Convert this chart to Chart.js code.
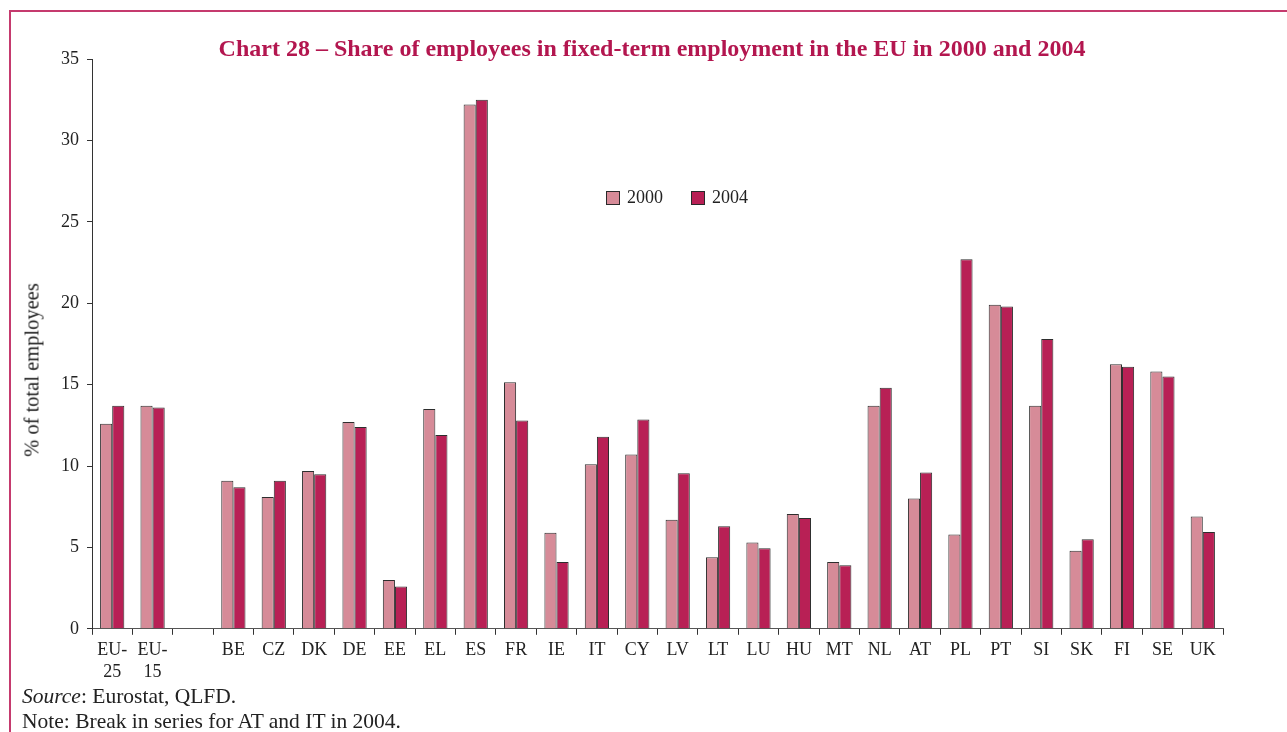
<!DOCTYPE html>
<html>
<head>
<meta charset="utf-8">
<script src="https://cdn.jsdelivr.net/npm/chart.js@4.4.1/dist/chart.umd.min.js"></script>
<style>
    html, body { margin: 0; padding: 0; background: #fff; }
    #wrap { position: relative; width: 1287px; height: 732px; overflow: hidden; }
    #frame {
        position: absolute; left: 9px; top: 10px; width: 1400px; height: 800px;
        border-top: 2px solid #c53a6e; border-left: 2px solid #c53a6e;
    }
    #chart { position: absolute; left: 0; top: 0; }
    .serif { font-family: "Liberation Serif", "Times New Roman", serif; }
    #title {
        position: absolute; left: 0; top: 34px; width: 1304px; text-align: center;
        font-size: 24px; line-height: 28px; font-weight: bold; color: #b3164f; white-space: nowrap;
    }
    #ytitle {
        position: absolute; left: 32px; top: 370px; font-size: 20.5px; color: #222;
        white-space: nowrap; transform: translate(-50%, -50%) rotate(-90deg);
    }
    #notes {
        position: absolute; left: 22px; top: 684px; font-size: 21.5px; line-height: 25px;
        color: #222; white-space: nowrap;
    }
</style>
</head>
<body>
<div id="wrap">
    <div id="frame"></div>
    <canvas id="chart" width="1287" height="732"></canvas>
    <div id="title" class="serif">Chart 28 – Share of employees in fixed-term employment in the EU in 2000 and 2004</div>
    <div id="ytitle" class="serif">% of total employees</div>
    <div id="notes" class="serif"><i>Source</i>: Eurostat, QLFD.<br>Note: Break in series for AT and IT in 2004.</div>
</div>
<script>
/* =========================================================
   Chart 28 - fixed-term employment, Chart.js bar chart
   ========================================================= */
const countries = [
    ['EU-', '25'], ['EU-', '15'], '',
    'BE', 'CZ', 'DK', 'DE', 'EE', 'EL', 'ES', 'FR', 'IE', 'IT', 'CY', 'LV',
    'LT', 'LU', 'HU', 'MT', 'NL', 'AT', 'PL', 'PT', 'SI', 'SK', 'FI', 'SE', 'UK'
];
const share2000 = [
    12.6, 13.7, null,
    9.1, 8.1, 9.7, 12.7, 3.0, 13.5, 32.2, 15.15, 5.9, 10.1, 10.7, 6.7,
    4.4, 5.3, 7.05, 4.1, 13.7, 8.0, 5.8, 19.9, 13.7, 4.8, 16.25, 15.8, 6.9
];
const share2004 = [
    13.7, 13.6, null,
    8.7, 9.1, 9.5, 12.4, 2.6, 11.9, 32.5, 12.8, 4.1, 11.8, 12.85, 9.55,
    6.3, 4.95, 6.8, 3.9, 14.8, 9.6, 22.7, 19.8, 17.8, 5.5, 16.1, 15.5, 5.95
];
const yTicks = [0, 5, 10, 15, 20, 25, 30, 35];

const serif = '"Liberation Serif", "Times New Roman", serif';
const inkColor = '#222';

// legend sits inside the plot, so draw it by hand
const innerLegend = {
    id: 'innerLegend',
    afterDraw(chart) {
        const ctx = chart.ctx;
        let x = 606;
        const y = 191;
        ctx.save();
        ctx.font = '18px ' + serif;
        ctx.textBaseline = 'middle';
        chart.data.datasets.forEach(ds => {
            ctx.fillStyle = ds.backgroundColor;
            ctx.fillRect(x, y, 13, 13);
            ctx.strokeStyle = '#2a2a2a';
            ctx.lineWidth = 1;
            ctx.strokeRect(x + 0.5, y + 0.5, 13, 13);
            ctx.fillStyle = inkColor;
            ctx.fillText(ds.label, x + 21, y + 7);
            x += 85;
        });
        ctx.restore();
    }
};

document.addEventListener('DOMContentLoaded', () => {
    const ctx = document.getElementById('chart');

    new Chart(ctx, {
        type: 'bar',
        data: {
            labels: countries,
            datasets: [{
                label: '2000',
                data: share2000,
                backgroundColor: '#d68b98',
                borderColor: '#2e2e2e',
                borderWidth: 1
            }, {
                label: '2004',
                data: share2004,
                backgroundColor: '#b82055',
                borderColor: '#2e2e2e',
                borderWidth: 1
            }]
        },
        options: {
            responsive: false,
            animation: false,
            categoryPercentage: 0.6,
            barPercentage: 1.0,
            layout: { padding: { left: 20, right: 64, top: 59, bottom: 44 } },
            plugins: {
                legend: { display: false },
                tooltip: { enabled: false },
                title: { display: false }
            },
            scales: {
                x: {
                    grid: {
                        offset: true,
                        drawOnChartArea: false,
                        tickLength: 6,
                        color: '#333'
                    },
                    border: { color: '#555', width: 1 },
                    ticks: {
                        color: inkColor,
                        font: { family: serif, size: 18 },
                        padding: 5,
                        maxRotation: 0,
                        autoSkip: false
                    }
                },
                y: {
                    min: 0,
                    max: 35,
                    afterBuildTicks: scale => {
                        scale.ticks = yTicks.map(v => ({ value: v }));
                    },
                    afterFit: scale => { scale.width = 72; },
                    grid: {
                        drawOnChartArea: false,
                        tickLength: 5,
                        color: '#333'
                    },
                    border: { color: '#333', width: 1 },
                    ticks: {
                        color: inkColor,
                        font: { family: serif, size: 18 },
                        padding: 8
                    }
                }
            }
        },
        plugins: [innerLegend]
    });
});
</script>
</body>
</html>
